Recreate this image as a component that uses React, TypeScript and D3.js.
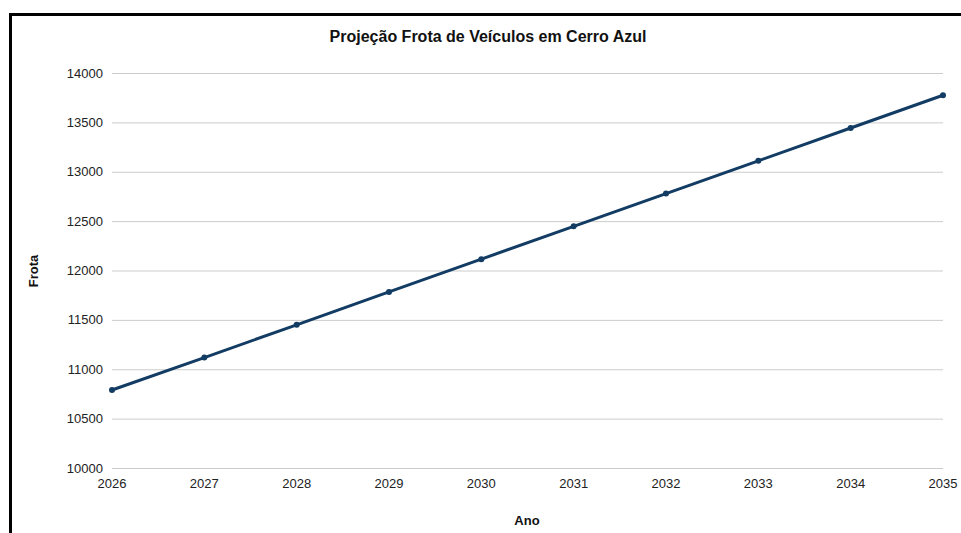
import { useEffect, useRef } from 'react';
import * as d3 from 'd3';

const years = [2026, 2027, 2028, 2029, 2030, 2031, 2032, 2033, 2034, 2035];
const frota = [10790, 11118, 11450, 11783, 12115, 12447, 12779, 13111, 13443, 13775];
const yTicks = [10000, 10500, 11000, 11500, 12000, 12500, 13000, 13500, 14000];

const App = () => {
  const svgRef = useRef<SVGSVGElement>(null);

  useEffect(() => {
    if (!svgRef.current) return;
    const svg = d3.select(svgRef.current);
    svg.selectAll('*').remove();

    const width = 961;
    const height = 533;
    const font = 'Liberation Sans, Arial, sans-serif';

    const x = d3.scaleLinear().domain([2026, 2035]).range([112, 943]);
    const y = d3.scaleLinear().domain([10000, 14000]).range([468, 73]);

    svg.attr('width', width).attr('height', height);

    // white background + frame
    svg.append('rect').attr('width', width).attr('height', height).attr('fill', '#fff');
    svg.append('rect')
      .attr('x', 10.5)
      .attr('y', 14.5)
      .attr('width', 1000)
      .attr('height', 600)
      .attr('fill', 'none')
      .attr('stroke', '#000')
      .attr('stroke-width', 3);

    // gridlines
    svg.append('g')
      .selectAll('line')
      .data(yTicks)
      .enter()
      .append('line')
      .attr('x1', x(2026))
      .attr('x2', x(2035))
      .attr('y1', d => y(d) + 0.5)
      .attr('y2', d => y(d) + 0.5)
      .attr('stroke', '#cccccc')
      .attr('stroke-width', 1);

    // y tick labels
    svg.append('g')
      .selectAll('text')
      .data(yTicks)
      .enter()
      .append('text')
      .attr('x', 103)
      .attr('y', d => y(d))
      .attr('dy', '0.35em')
      .attr('text-anchor', 'end')
      .attr('font-family', font)
      .attr('font-size', 13)
      .attr('fill', '#222')
      .text(d => String(d));

    // x tick labels
    svg.append('g')
      .selectAll('text')
      .data(years)
      .enter()
      .append('text')
      .attr('x', d => x(d))
      .attr('y', 488)
      .attr('text-anchor', 'middle')
      .attr('font-family', font)
      .attr('font-size', 13)
      .attr('fill', '#222')
      .text(d => String(d));

    // line
    const line = d3.line<number>()
      .x((_, i) => x(years[i]))
      .y(d => y(d));

    svg.append('path')
      .datum(frota)
      .attr('d', line)
      .attr('fill', 'none')
      .attr('stroke', '#123c63')
      .attr('stroke-width', 3);

    svg.append('g')
      .selectAll('circle')
      .data(frota)
      .enter()
      .append('circle')
      .attr('cx', (_, i) => x(years[i]))
      .attr('cy', d => y(d))
      .attr('r', 3)
      .attr('fill', '#123c63');

    // title
    svg.append('text')
      .attr('x', 488)
      .attr('y', 42)
      .attr('text-anchor', 'middle')
      .attr('font-family', font)
      .attr('font-size', 16)
      .attr('font-weight', 'bold')
      .attr('fill', '#111')
      .text('Projeção Frota de Veículos em Cerro Azul');

    // axis titles
    svg.append('text')
      .attr('x', 527)
      .attr('y', 525)
      .attr('text-anchor', 'middle')
      .attr('font-family', font)
      .attr('font-size', 13)
      .attr('font-weight', 'bold')
      .attr('fill', '#111')
      .text('Ano');

    svg.append('text')
      .attr('transform', 'translate(38,271) rotate(-90)')
      .attr('text-anchor', 'middle')
      .attr('font-family', font)
      .attr('font-size', 13)
      .attr('font-weight', 'bold')
      .attr('fill', '#111')
      .text('Frota');
  }, []);

  return (
    <svg
      ref={svgRef}
      style={{ position: 'absolute', left: 0, top: 0, display: 'block' }}
    />
  );
};

export default App;
